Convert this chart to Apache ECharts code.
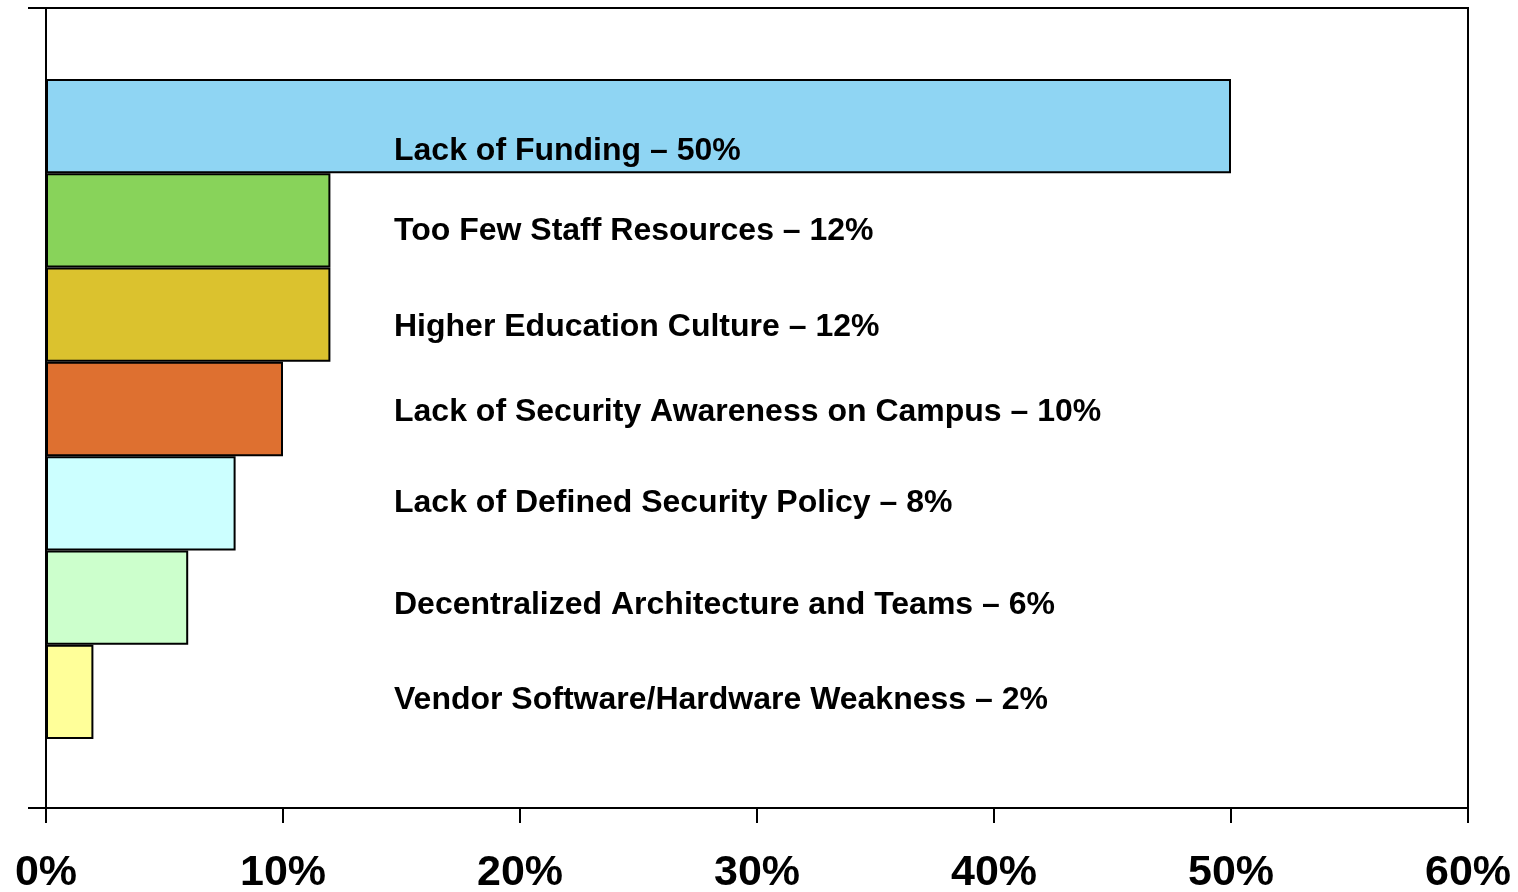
<!DOCTYPE html>
<html lang="en">
<head>
  <meta charset="UTF-8">
  <title>Barriers</title>
  <script src="https://cdn.jsdelivr.net/npm/echarts@6/dist/echarts.min.js"></script>
</head>
<body style="margin:0;background:#fff">
  <div id="main" style="width:1518px;height:892px;"></div>
  <script type="text/javascript">
    var myChart = echarts.init(document.getElementById('main'));

    // data
    const categories = [
      'Lack of Funding',
      'Too Few Staff Resources',
      'Higher Education Culture',
      'Lack of Security Awareness on Campus',
      'Lack of Defined Security Policy',
      'Decentralized Architecture and Teams',
      'Vendor Software/Hardware Weakness'
    ]
    const values = [50, 12, 12, 10, 8, 6, 2]
    const xTicks = [0, 10, 20, 30, 40, 50, 60]

    // styles
    const barColors = ['#8fd5f3', '#88d35a', '#dbc22e', '#de7030', '#ccffff', '#ccffcc', '#ffff99']
    const labelNudge = [25, 11, 12, 3, 0, 8, 8] // label sits a bit off bar centre

    const fontFamily = '"Liberation Sans", Arial, sans-serif'

    const option = {
      animation: false,
      grid: [
        // outer frame with the axis
        { left: 46, right: 50, top: 8, bottom: 84, outerBoundsMode: 'none', containLabel: false,
          show: true, borderColor: '#000', borderWidth: 2, backgroundColor: 'transparent' },
        // inner area where the bars sit
        { left: 46, right: 50, top: 79, bottom: 153, outerBoundsMode: 'none', containLabel: false }
      ],
      xAxis: [{
        gridIndex: 0,
        type: 'value',
        min: xTicks[0],
        max: xTicks[xTicks.length - 1],
        interval: 10,
        splitLine: { show: false },
        axisLine: { show: true, lineStyle: { color: '#000', width: 2 } },
        axisTick: { show: true, length: 15, lineStyle: { color: '#000', width: 2 } },
        axisLabel: {
          margin: 44,
          color: '#000',
          fontSize: 43,
          fontWeight: 'bold',
          fontFamily: fontFamily,
          formatter: '{value}%'
        }
      }, {
        gridIndex: 1,
        type: 'value',
        min: xTicks[0],
        max: xTicks[xTicks.length - 1],
        show: false
      }],
      yAxis: [{
        gridIndex: 0,
        type: 'value',
        min: 0,
        max: 1,
        interval: 1,
        splitLine: { show: false },
        axisLabel: { show: false },
        axisLine: { show: true, lineStyle: { color: '#000', width: 2 } },
        axisTick: { show: true, length: 18, lineStyle: { color: '#000', width: 2 } }
      }, {
        gridIndex: 1,
        type: 'category',
        inverse: true,
        data: categories,
        show: false
      }],
      series: [{
        type: 'bar',
        xAxisIndex: 1,
        yAxisIndex: 1,
        barCategoryGap: 0,
        data: values.map((v, i) => ({
          value: v,
          itemStyle: { color: barColors[i] },
          label: { offset: [0, labelNudge[i]] }
        })),
        itemStyle: { borderColor: '#000', borderWidth: 2 },
        label: {
          show: true,
          position: [348, '50%'],
          align: 'left',
          verticalAlign: 'middle',
          color: '#000',
          fontSize: 32,
          fontWeight: 'bold',
          fontFamily: fontFamily,
          formatter: p => categories[p.dataIndex] + ' \u2013 ' + p.value + '%'
        }
      }]
    }

    myChart.setOption(option);
  </script>
</body>
</html>
